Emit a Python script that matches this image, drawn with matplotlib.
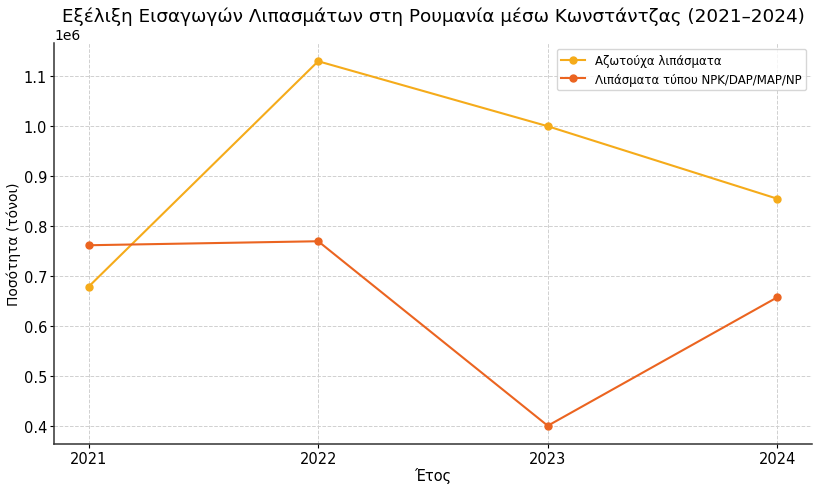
import matplotlib.pyplot as plt

years = [2021, 2022, 2023, 2024]
azotouxa = [679000, 1130000, 1000000, 855000]
npk = [762000, 770000, 401000, 658000]

plt.rcParams['font.family'] = ['DejaVu Sans']

fig, ax = plt.subplots(figsize=(8.2, 4.89), dpi=100)

ax.plot(years, azotouxa, marker='o', markersize=5, linewidth=1.5,
        color='#f5ab1a', label='Αζωτούχα λιπάσματα')
ax.plot(years, npk, marker='o', markersize=5, linewidth=1.5,
        color='#eb6420', label='Λιπάσματα τύπου NPK/DAP/MAP/NP')

ax.set_title('Εξέλιξη Εισαγωγών Λιπασμάτων στη Ρουμανία μέσω Κωνστάντζας (2021–2024)',
             fontsize=13.2, pad=16)
ax.set_xlabel('Έτος', fontsize=10.5, labelpad=1)
ax.set_ylabel('Ποσότητα (τόνοι)', fontsize=10, labelpad=2)
ax.set_xticks(years)
ax.tick_params(axis='x', labelsize=10.5, pad=2, length=3)
ax.tick_params(axis='y', labelsize=10.5, pad=2, length=3)

ax.grid(True, linestyle='--', color='#d0d0d0', linewidth=0.7)
ax.spines['top'].set_visible(False)
ax.spines['right'].set_visible(False)
for s in ['left', 'bottom']:
    ax.spines[s].set_color('#333333')
    ax.spines[s].set_linewidth(1.1)
ax.legend(fontsize=8.5, loc='upper right')

fig.subplots_adjust(left=0.066, right=0.99, top=0.91, bottom=0.09)
plt.savefig('out.png')
